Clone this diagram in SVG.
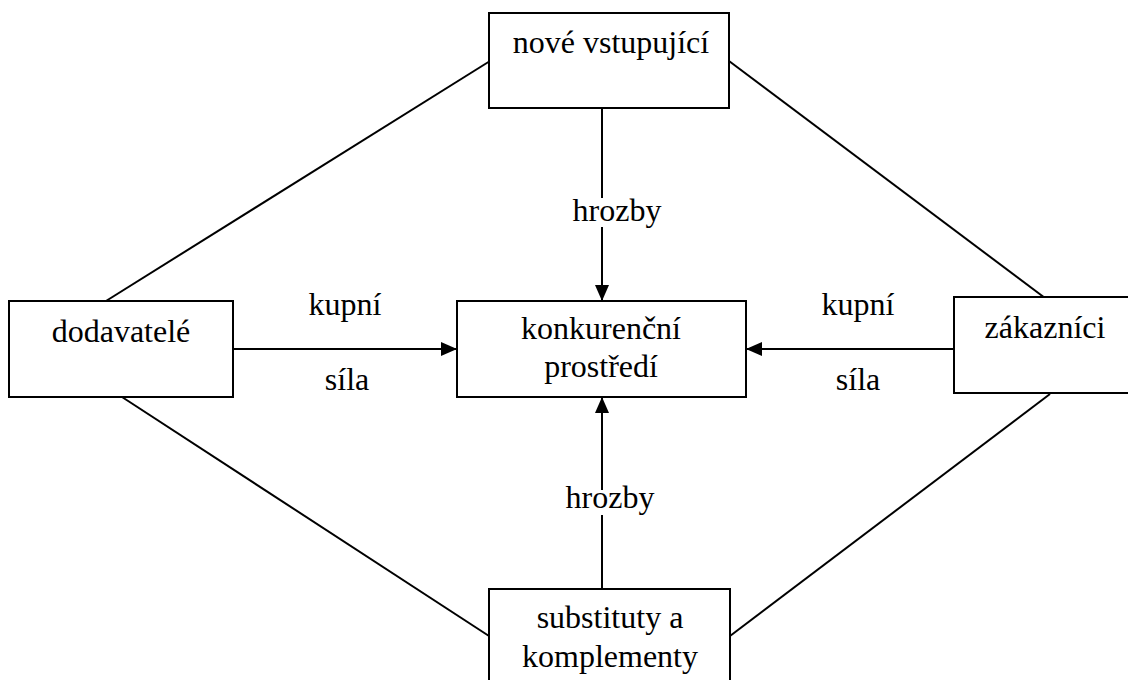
<svg xmlns="http://www.w3.org/2000/svg" width="1128" height="680" viewBox="0 0 1128 680">
<style>
.box{fill:#fff;stroke:#000;stroke-width:2}
.ln{stroke:#000;stroke-width:2;fill:none}
.t{font-family:"Liberation Serif","Times New Roman",serif;font-size:32px;fill:#000;text-anchor:middle}
</style>
<defs>
<marker id="ah" markerUnits="userSpaceOnUse" markerWidth="17" markerHeight="15" refX="16" refY="7" orient="auto">
<path d="M0,0 L16,7 L0,14 z" fill="#000"/>
</marker>
</defs>
<rect width="1128" height="680" fill="#fff"/>
<g id="connectors">
<line class="ln" x1="106" y1="301" x2="490" y2="61"/>
<line class="ln" x1="122" y1="397" x2="489" y2="636"/>
<line class="ln" x1="729" y1="61" x2="1049" y2="301"/>
<line class="ln" x1="1050" y1="394" x2="730" y2="636"/>
<line class="ln" x1="233" y1="349" x2="457" y2="349" marker-end="url(#ah)"/>
<line class="ln" x1="954" y1="349" x2="746" y2="349" marker-end="url(#ah)"/>
<line class="ln" x1="602" y1="108" x2="602" y2="301" marker-end="url(#ah)"/>
<line class="ln" x1="602" y1="589" x2="602" y2="397" marker-end="url(#ah)"/>
<rect x="575" y="198" width="86" height="29" fill="#fff"/>
<text class="t" x="617" y="221">hrozby</text>
<rect x="568" y="490" width="86" height="25" fill="#fff"/>
<text class="t" x="610" y="508">hrozby</text>
<text class="t" x="345" y="315">kupní</text>
<text class="t" x="347" y="390">síla</text>
<text class="t" x="858" y="315">kupní</text>
<text class="t" x="858" y="390">síla</text>
</g>
<g id="nove">
<rect class="box" x="489" y="13" width="240" height="95"/>
<text class="t" x="611" y="53">nové vstupující</text>
</g>
<g id="dodavatele">
<rect class="box" x="9" y="301" width="224" height="96"/>
<text class="t" x="121" y="342">dodavatelé</text>
</g>
<g id="zakaznici">
<rect class="box" x="954" y="297" width="182" height="96"/>
<text class="t" x="1045" y="338">zákazníci</text>
</g>
<g id="konkurencni">
<rect class="box" x="457" y="301" width="289" height="96"/>
<text class="t" x="601" y="339">konkurenční</text>
<text class="t" x="601" y="377">prostředí</text>
</g>
<g id="substituty">
<rect class="box" x="489" y="589" width="241" height="110"/>
<text class="t" x="610" y="628">substituty a</text>
<text class="t" x="610" y="667">komplementy</text>
</g>
</svg>
